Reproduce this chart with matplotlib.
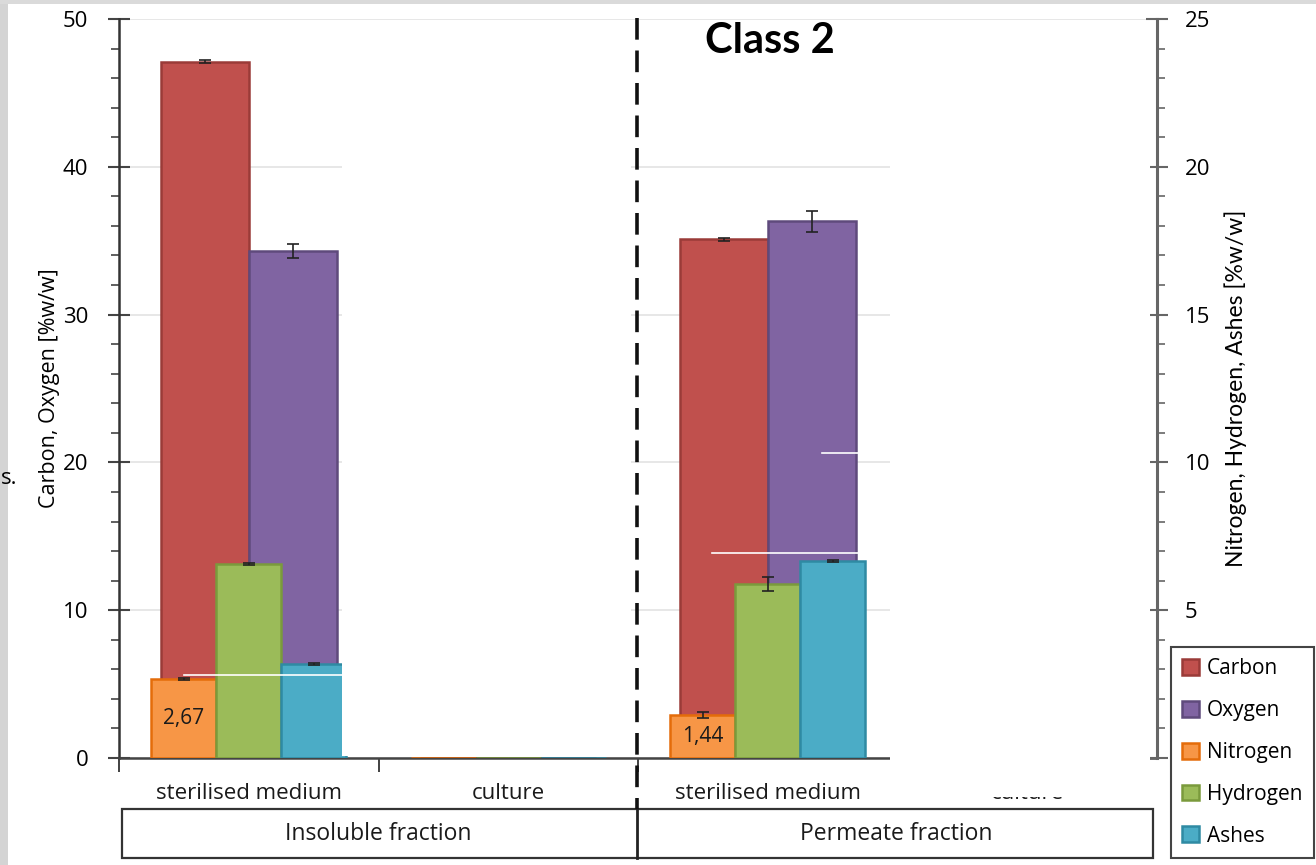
import matplotlib
matplotlib.use("Agg")
import matplotlib.pyplot as plt
from matplotlib.patches import Rectangle
from matplotlib.lines import Line2D
from matplotlib.ticker import MultipleLocator
import numpy as np

plt.rcParams["font.family"] = ["Open Sans", "DejaVu Sans"]

# ── data ─────────────────────────────────────────────────────────────────────
categories = ["sterilised medium", "culture", "sterilised medium", "culture"]
groups = ["Insoluble fraction", "Permeate fraction"]

carbon = [47.1, 0.0, 35.1, 0.0]
carbon_err = [0.1, 0.0, 0.1, 0.0]
oxygen = [34.3, 0.0, 36.3, 0.0]
oxygen_err = [0.5, 0.0, 0.7, 0.0]

nitrogen = [2.67, 0.0, 1.44, 0.0]
nitrogen_err = [0.04, 0.0, 0.1, 0.0]
hydrogen = [6.57, 0.0, 5.89, 0.0]
hydrogen_err = [0.03, 0.0, 0.25, 0.0]
ashes = [3.18, 0.0, 6.67, 0.0]
ashes_err = [0.03, 0.0, 0.03, 0.0]

W, H = 1316, 865


def fx(x):
    return x / W


def fy(y):
    return 1 - y / H


fig = plt.figure(figsize=(W / 100, H / 100), dpi=100)
fig.patch.set_facecolor("white")

ax = fig.add_axes([fx(119), fy(758), (1157 - 119) / W, (758 - 19) / H])
ax2 = ax.twinx()

x = np.arange(len(categories))
measured = np.array([1, 0, 1, 0], dtype=bool)

series_main = [
    ("Carbon", carbon, carbon_err, "#C0504D", "#9A3B38", -0.17),
    ("Oxygen", oxygen, oxygen_err, "#8064A2", "#5F4A7C", 0.17),
]
series_sec = [
    ("Nitrogen", nitrogen, nitrogen_err, "#F79646", "#E46C0A", -0.25),
    ("Hydrogen", hydrogen, hydrogen_err, "#9BBB59", "#7A9A3C", 0.0),
    ("Ashes", ashes, ashes_err, "#4BACC6", "#2F8AA3", 0.25),
]

handles = []
for name, vals, err, fc, ec, off in series_main:
    b = ax.bar(x + off, vals, width=0.34, color=fc, edgecolor=ec, linewidth=1.8,
               zorder=2, label=name)
    ax.errorbar((x + off)[measured], np.array(vals)[measured],
                yerr=np.array(err)[measured], fmt="none", ecolor="#222222",
                elinewidth=1.2, capsize=4, capthick=1.2, zorder=3)
    handles.append(b)

containers = {}
for name, vals, err, fc, ec, off in series_sec:
    b = ax2.bar(x + off, vals, width=0.25, color=fc, edgecolor=ec, linewidth=1.8,
                zorder=2, label=name)
    ax2.errorbar((x + off)[measured], np.array(vals)[measured],
                 yerr=np.array(err)[measured], fmt="none", ecolor="#222222",
                 elinewidth=1.2, capsize=4, capthick=1.2, zorder=3)
    handles.append(b)
    containers[name] = b

# nitrogen values written inside the bars
n_labels = [f"{v:.2f}".replace(".", ",") if m else "" for v, m in zip(nitrogen, measured)]
ax2.bar_label(containers["Nitrogen"], labels=n_labels, label_type="center",
              fontsize=15, color="#1a1a1a")

# ── axes styling ─────────────────────────────────────────────────────────────
ax.set_xlim(-0.5, 3.5)
ax.set_ylim(0, 50)
ax2.set_ylim(0, 25)

ax.yaxis.set_major_locator(MultipleLocator(10))
ax.yaxis.set_minor_locator(MultipleLocator(2))
ax2.yaxis.set_major_locator(MultipleLocator(5))
ax2.yaxis.set_minor_locator(MultipleLocator(1))
ax.grid(axis="y", color="#E3E3E3", lw=1.2, zorder=0)
ax.set_axisbelow(True)

ax.set_xticks(x)
ax.set_xticklabels(categories, fontsize=16, color="#1a1a1a")
ax.set_xticks([-0.5, 0.5, 1.5, 2.5], minor=True)
ax.tick_params(axis="x", which="major", length=0, pad=18)
ax.tick_params(axis="x", which="minor", length=10, width=1.3, direction="out", color="#333333")

ax.tick_params(axis="y", which="major", direction="inout", length=16, width=1.5,
               labelsize=16, color="#444444", pad=14)
ax.tick_params(axis="y", which="minor", direction="out", length=6, width=1.2, color="#444444")
ax2.tick_params(axis="y", which="major", direction="inout", length=16, width=1.5,
                labelsize=16, color="#666666", pad=12)
ax2.tick_params(axis="y", which="minor", direction="out", length=6, width=1.2, color="#666666")

for a in (ax, ax2):
    a.spines["top"].set_visible(False)
ax2.spines["left"].set_visible(False)
ax2.spines["bottom"].set_visible(False)
ax.spines["right"].set_visible(False)
ax.spines["left"].set_color("#333333")
ax.spines["left"].set_linewidth(1.8)
ax.spines["bottom"].set_color("#444444")
ax.spines["bottom"].set_linewidth(1.8)
ax2.spines["right"].set_color("#666666")
ax2.spines["right"].set_linewidth(2.2)

ax.set_ylabel("Carbon, Oxygen [%w/w]", fontsize=15.5, labelpad=2)
ax2.set_ylabel("Nitrogen, Hydrogen, Ashes [%w/w]", fontsize=16.5, labelpad=10,
               family=["Lato", "DejaVu Sans"])

# ── masked-out areas of the plot ─────────────────────────────────────────────
fig.add_artist(Rectangle((fx(342), fy(756)), (631 - 342) / W, (756 - 22) / H,
                         transform=fig.transFigure, facecolor="white",
                         edgecolor="none", zorder=3))
fig.add_artist(Rectangle((fx(890), fy(797)), (1150 - 890) / W, (797 - 22) / H,
                         transform=fig.transFigure, facecolor="white",
                         edgecolor="none", zorder=3))
for x0, x1, y0 in [(184, 342, 675), (712, 885, 553), (822, 890, 453)]:
    fig.add_artist(Line2D([fx(x0), fx(x1)], [fy(y0), fy(y0)], transform=fig.transFigure,
                          color="white", lw=1.2, zorder=4))

# ── fraction boxes under the categories ──────────────────────────────────────
fig.add_artist(Rectangle((fx(122), fy(858)), (1153 - 122) / W, (858 - 809) / H,
                         transform=fig.transFigure, facecolor="none",
                         edgecolor="#333333", lw=1.6, zorder=5))
fig.add_artist(Line2D([fx(637), fx(637)], [fy(809), fy(858)], transform=fig.transFigure,
                      color="#222222", lw=2, zorder=5))
for gx, label in zip([378, 896], groups):
    fig.text(fx(gx), fy(834), label, ha="center", va="center", fontsize=16.5,
             color="#1a1a1a")

# dashed separator between the two fractions
fig.add_artist(Line2D([fx(637), fx(637)], [fy(18), fy(809)], transform=fig.transFigure,
                      color="#111111", lw=2.6, ls=(0, (6, 3)), zorder=6))

fig.text(fx(770), fy(41), "Class 2", ha="center", va="center", fontsize=30,
         fontweight="bold", family=["Lato", "DejaVu Sans"])

# page edge and stray caption fragment
fig.add_artist(Rectangle((0, 0), fx(8), 1, transform=fig.transFigure,
                         facecolor="#D4D4D4", edgecolor="none", zorder=6))
fig.add_artist(Rectangle((0, fy(4)), 1, 4 / H, transform=fig.transFigure,
                         facecolor="#DADADA", edgecolor="none", zorder=6))
fig.text(fx(1), fy(479), "s.", ha="left", va="center", fontsize=16, zorder=7)

leg = fig.legend(handles, [h.get_label() for h in handles], loc="lower right",
                 bbox_to_anchor=(fx(1314), fy(858)), fontsize=15,
                 handlelength=0.8, handleheight=0.8, handletextpad=0.4,
                 labelspacing=1.0, borderpad=0.55, borderaxespad=0,
                 fancybox=False, framealpha=1, edgecolor="#444444")
leg.get_frame().set_linewidth(1.5)
leg.set_zorder(8)

fig.savefig("out.png", dpi=100)
